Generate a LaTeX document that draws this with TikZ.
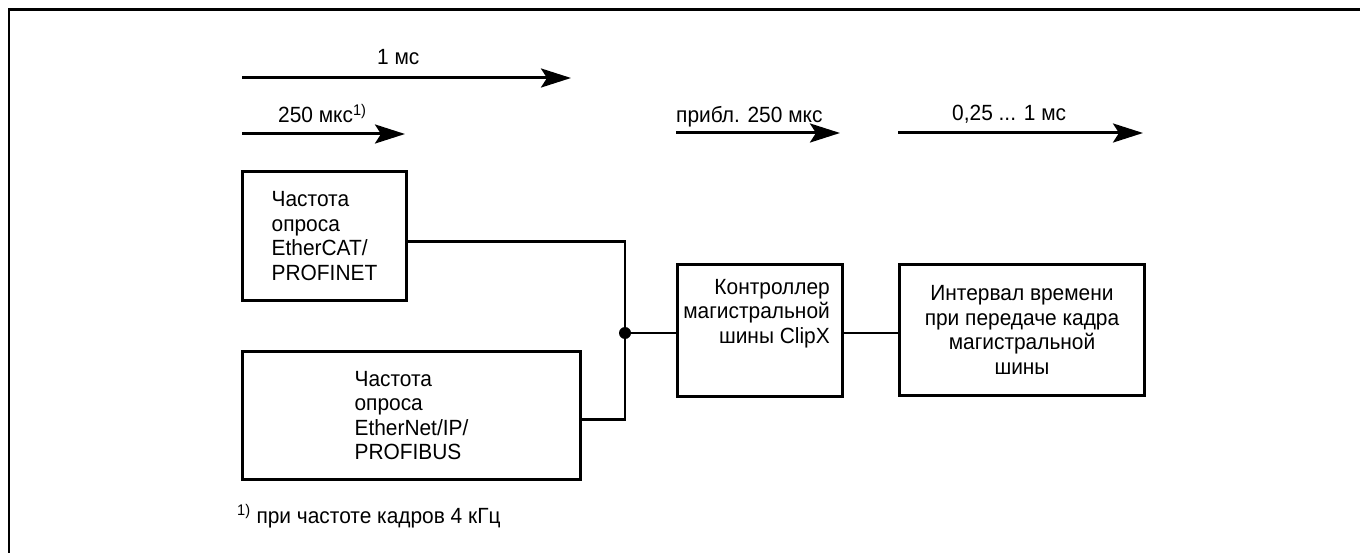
\documentclass[tikz,border=0pt]{standalone}
\usepackage{fontspec}
\setmainfont[FakeStretch=0.95]{Liberation Sans}
\usetikzlibrary{arrows.meta}

\begin{document}
\begin{tikzpicture}[x=1pt, y=-1pt, line cap=butt, line join=miter,
    block/.style={draw, line width=3pt, anchor=north west, inner sep=0pt,
      font=\fontsize{22}{24.5}\selectfont},
    boxtext/.style={inner sep=0pt, font=\fontsize{22}{24.5}\selectfont},
    wire/.style={line width=2.5pt},
    timearrow/.style={line width=3pt, -{Stealth[length=30pt, width=19pt, inset=6pt]}},
    timelabel/.style={inner sep=0pt, anchor=base west, font=\fontsize{22}{24.5}\selectfont},
    dot/.style={circle, fill, inner sep=0pt, minimum size=12pt}]

  %% ---- frame (left and top edge only) ----
  \draw[line width=2.4pt] (9,553) -- (9,9.5) -- (1360,9.5);

  %% ---- time arrows ----
  \coordinate (ms1s) at (242,78);   \coordinate (ms1e) at (571,78);
  \coordinate (us250s) at (242,134); \coordinate (us250e) at (405,134);
  \coordinate (busS) at (676,133);  \coordinate (busE) at (840,133);
  \coordinate (frmS) at (898,133);  \coordinate (frmE) at (1143,133);
  \draw[timearrow] (ms1s) -- (ms1e);
  \draw[timearrow] (us250s) -- (us250e);
  \draw[timearrow] (busS) -- (busE);
  \draw[timearrow] (frmS) -- (frmE);

  \node[timelabel] (ms1lbl) at (377,65) {1 мс};
  \node[timelabel] (us250lbl) at (278,123) {250 мкс\textsuperscript{1)}};
  \node[timelabel] (buslbl) at (676,123) {прибл. 250 мкс};
  \node[timelabel] (frmlbl) at (952,121) {0,25 ... 1 мс};

  %% ---- blocks ----
  \node[block, align=left, minimum width=164pt, minimum height=129pt] (ecat) at (241,170)
    {Частота\\опроса\\EtherCAT/\\PROFINET};
  \node[block, align=left, minimum width=338pt, minimum height=128pt] (eip) at (241,350)
    {Частота\\опроса\\EtherNet/IP/\\PROFIBUS};
  \node[block, minimum width=165pt, minimum height=132pt] (ctrl) at (676,263) {};
  \node[boxtext, align=right, anchor=north east] (ctrltxt) at ([xshift=-14pt, yshift=-16pt]ctrl.north east)
    {Контроллер\\магистральной\\шины ClipX};
  \node[block, align=center, minimum width=245pt, minimum height=131pt] (intv) at (898,263)
    {Интервал времени\\при передаче кадра\\магистральной\\шины};

  %% ---- connections ----
  \node[dot] (jn) at (625,333) {};
  \draw[wire] ([yshift=-5.5pt]ecat.east) -| (jn.center);
  \draw[wire] ([yshift=-4pt]eip.east) -| (jn.center);
  \draw[wire] (jn.center) -- (jn -| ctrl.west);
  \draw[wire] (jn -| ctrl.east) -- (jn -| intv.west);

  %% ---- footnote ----
  \node[timelabel] (fnote) at (237,523) {\textsuperscript{1)} при частоте кадров 4 кГц};

  \pgfresetboundingbox
  \path[use as bounding box] (0,0) rectangle (1360,553);
\end{tikzpicture}
\end{document}
